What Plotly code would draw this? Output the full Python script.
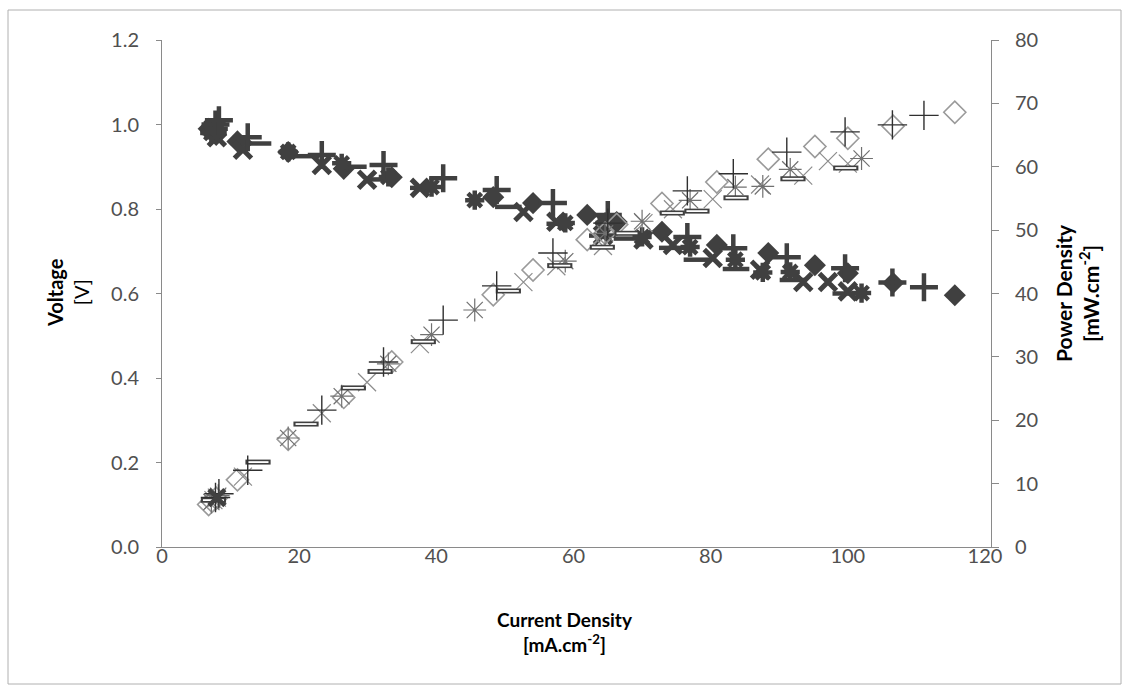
import plotly.graph_objects as go

# ---------------- data ----------------
# Series A (diamond)
a_current = [6.8, 7.3, 7.9, 11.0, 18.4, 26.5, 33.5, 48.3, 54.1, 62.0, 64.6, 66.3, 72.9, 80.9, 88.4, 95.2, 100.0, 106.6, 115.6]
a_voltage = [0.99, 0.985, 0.975, 0.96, 0.935, 0.895, 0.875, 0.828, 0.814, 0.786, 0.767, 0.769, 0.746, 0.715, 0.696, 0.667, 0.648, 0.625, 0.596]
a_power = [6.7, 7.2, 7.7, 10.6, 17.0, 23.6, 29.2, 39.8, 43.7, 48.5, 49.5, 50.9, 54.2, 57.6, 61.2, 63.2, 64.5, 66.4, 68.6]

# Series B (plus)
b_current = [7.8, 8.3, 12.5, 23.3, 32.3, 41.0, 48.8, 57.0, 65.0, 76.6, 83.3, 91.1, 99.6, 106.5, 111.1]
b_voltage = [1.0, 1.01, 0.97, 0.928, 0.904, 0.873, 0.845, 0.814, 0.786, 0.734, 0.707, 0.686, 0.66, 0.626, 0.615]
b_power = [7.8, 8.4, 12.1, 21.6, 29.2, 35.8, 41.2, 46.4, 51.1, 56.2, 58.9, 62.3, 65.5, 66.6, 68.1]

# Series C (x)
c_current = [7.5, 8.0, 11.8, 23.3, 29.9, 37.6, 52.7, 57.5, 64.3, 70.2, 74.5, 80.3, 87.2, 93.5, 97.1, 100.0]
c_voltage = [0.99, 0.97, 0.94, 0.904, 0.869, 0.85, 0.793, 0.77, 0.738, 0.728, 0.715, 0.684, 0.656, 0.627, 0.627, 0.605]
c_power = [7.4, 7.8, 11.1, 21.1, 26.0, 32.0, 41.8, 44.3, 47.5, 51.1, 53.3, 54.9, 57.2, 58.6, 60.9, 60.5]

# Series D (asterisk)
d_current = [7.2, 8.2, 18.4, 26.2, 33.0, 39.3, 45.6, 58.8, 64.6, 70.0, 77.0, 83.6, 87.6, 91.6, 102.0]
d_voltage = [0.98, 0.99, 0.935, 0.908, 0.876, 0.852, 0.821, 0.767, 0.767, 0.734, 0.71, 0.68, 0.65, 0.651, 0.601]
d_power = [7.1, 8.1, 17.2, 23.8, 28.9, 33.5, 37.4, 45.1, 49.5, 51.4, 54.7, 56.8, 56.9, 59.6, 61.3]

# Series E (dash)
e_current = [7.5, 14.0, 21.0, 27.9, 31.8, 38.1, 50.5, 58.0, 64.2, 67.8, 74.4, 78.0, 83.7, 92.0, 99.7]
e_voltage = [0.98, 0.955, 0.925, 0.9, 0.87, 0.85, 0.805, 0.765, 0.737, 0.73, 0.708, 0.68, 0.658, 0.632, 0.6]
e_power = [7.4, 13.4, 19.4, 25.1, 27.7, 32.4, 40.4, 44.4, 47.3, 49.5, 52.7, 53.0, 55.1, 58.1, 59.8]

x_ticks = [0, 20, 40, 60, 80, 100, 120]
v_ticks = [0.0, 0.2, 0.4, 0.6, 0.8, 1.0, 1.2]
p_ticks = [0, 10, 20, 30, 40, 50, 60, 70, 80]

DARK = "#404040"
FONT = "Lato"

fig = go.Figure()

# ---------------- power density (secondary axis, hollow / thin markers) ----------------
fig.add_trace(go.Scatter(x=a_current, y=a_power, mode="markers", yaxis="y2",
                         marker=dict(symbol="diamond-open", size=17, color="#9a9a9a",
                                     line=dict(width=1.6, color="#9a9a9a"))))
fig.add_trace(go.Scatter(x=c_current, y=c_power, mode="markers", yaxis="y2",
                         marker=dict(symbol="x-thin-open", size=18, color="#8c8c8c",
                                     line=dict(width=1.2, color="#8c8c8c"))))
fig.add_trace(go.Scatter(x=d_current, y=d_power, mode="markers", yaxis="y2",
                         marker=dict(symbol="asterisk-open", size=19, color="#707070",
                                     line=dict(width=1.2, color="#707070"))))
fig.add_trace(go.Scatter(x=e_current, y=e_power, mode="markers", yaxis="y2",
                         marker=dict(symbol="line-ew-open", size=18, color="#404040",
                                     line=dict(width=5, color="#404040"))))
fig.add_trace(go.Scatter(x=e_current, y=e_power, mode="markers", yaxis="y2",
                         marker=dict(symbol="line-ew-open", size=15, color="white",
                                     line=dict(width=1.8, color="white"))))
fig.add_trace(go.Scatter(x=b_current, y=b_power, mode="markers", yaxis="y2",
                         marker=dict(symbol="cross-thin-open", size=21, color="#303030",
                                     line=dict(width=1.4, color="#303030"))))
# first X point of power series appears dark/thick
fig.add_trace(go.Scatter(x=c_current[1:2], y=c_power[1:2], mode="markers", yaxis="y2",
                         marker=dict(symbol="x-thin-open", size=16, color=DARK,
                                     line=dict(width=4.5, color=DARK))))

# ---------------- voltage (primary axis, dark / thick markers) ----------------
fig.add_trace(go.Scatter(x=a_current, y=a_voltage, mode="markers",
                         marker=dict(symbol="diamond", size=17, color=DARK,
                                     line=dict(width=0))))
fig.add_trace(go.Scatter(x=e_current, y=e_voltage, mode="markers",
                         marker=dict(symbol="line-ew-open", size=19, color=DARK,
                                     line=dict(width=4.5, color=DARK))))
fig.add_trace(go.Scatter(x=c_current, y=c_voltage, mode="markers",
                         marker=dict(symbol="x-thin-open", size=17, color=DARK,
                                     line=dict(width=5, color=DARK))))
fig.add_trace(go.Scatter(x=d_current, y=d_voltage, mode="markers",
                         marker=dict(symbol="asterisk-open", size=16, color=DARK,
                                     line=dict(width=4.5, color=DARK))))
fig.add_trace(go.Scatter(x=b_current, y=b_voltage, mode="markers",
                         marker=dict(symbol="cross-thin-open", size=20, color=DARK,
                                     line=dict(width=4.5, color=DARK))))

# ---------------- layout ----------------
L, R, T, B = 162, 991, 40, 547
XR = 985  # pixel where x = 120 sits
W, H = 1128, 690
pw, ph = R - L, B - T
x_max = 120 * pw / (XR - L)


def px(xpix):
    return (xpix - L) / pw


def py(ypix):
    return (B - ypix) / ph


LINE = "#8a8a8a"
tickfont = dict(family=FONT, size=20, color="#505050")

fig.update_layout(
    width=W, height=H,
    margin=dict(l=L, r=W - R, t=T, b=H - B),
    paper_bgcolor="white", plot_bgcolor="white",
    showlegend=False,
    xaxis=dict(range=[0, x_max], tickvals=x_ticks,
               ticktext=[str(v) for v in x_ticks],
               showgrid=False, zeroline=False, showline=True, linecolor=LINE, linewidth=1,
               ticks="outside", ticklen=0, tickcolor=LINE, ticklabelstandoff=-9,
               tickfont=tickfont),
    yaxis=dict(range=[0, 1.2], tickvals=v_ticks, ticktext=[f"{v:.1f}" for v in v_ticks],
               showgrid=False, zeroline=False, showline=True, linecolor=LINE, linewidth=1,
               ticks="outside", ticklen=5, tickcolor=LINE, ticklabelstandoff=13,
               tickfont=tickfont),
    yaxis2=dict(range=[0, 80], tickvals=p_ticks, ticktext=[str(v) for v in p_ticks],
                overlaying="y", side="right",
                showgrid=False, zeroline=False, showline=True, linecolor=LINE, linewidth=1,
                ticks="outside", ticklen=7, tickcolor=LINE, ticklabelstandoff=12,
                tickfont=tickfont),
    shapes=[dict(type="rect", xref="paper", yref="paper",
                 x0=px(8), x1=px(1121), y0=py(684), y1=py(10),
                 line=dict(color="#b0b0b0", width=1), fillcolor="rgba(0,0,0,0)", layer="below")],
    annotations=[
        dict(text="<b>Current Density</b><br><b>[mA.cm<sup>-2</sup>]</b>", xref="paper", yref="paper",
             x=px(565), y=py(632), xanchor="center", yanchor="middle", showarrow=False, align="center",
             font=dict(family=FONT, size=19, color="black")),
        dict(text="<b>Voltage</b><br>[V]", xref="paper", yref="paper",
             x=px(68), y=py(293), xanchor="center", yanchor="middle", showarrow=False,
             textangle=-90, align="center",
             font=dict(family=FONT, size=20, color="black")),
        dict(text="<b>Power Density</b><br><b>[mW.cm<sup>-2</sup>]</b>", xref="paper", yref="paper",
             x=px(1077), y=py(293), xanchor="center", yanchor="middle", showarrow=False,
             textangle=-90, align="center",
             font=dict(family=FONT, size=21, color="black")),
    ],
)

fig.write_html("out.html")
